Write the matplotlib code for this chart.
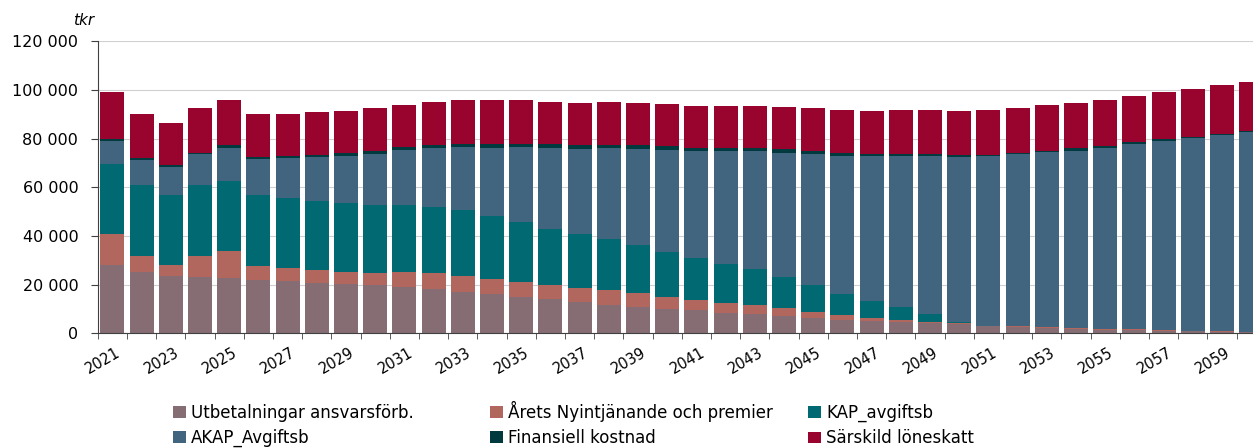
import matplotlib.pyplot as plt
from matplotlib.patches import Patch
from matplotlib.transforms import ScaledTranslation
import numpy as np

years = list(range(2021, 2061))

utbetalningar = [28000, 25200, 23700, 23150, 22900, 22050, 21650, 20800, 20150, 19750,
                 18900, 18100, 17000, 16150, 14950, 14100, 13000, 11800, 10950, 10150,
                 9450, 8200, 7950, 7100, 6300, 5500, 5200, 4650, 4100, 3850,
                 3000, 2600, 2350, 1900, 1500, 1500, 1100, 950, 700, 550]
arets = [12700, 6700, 4250, 8750, 11100, 5650, 5200, 5250, 5050, 5050,
         6300, 6700, 6550, 6300, 6300, 5650, 5500, 5850, 5500, 4800,
         4250, 4400, 3850, 3200, 2350, 2050, 1100, 850, 550, 400,
         200, 200, 150, 150, 150, 150, 150, 150, 150, 150]
kap = [28900, 29100, 28900, 29100, 28750, 29150, 28750, 28500, 28500, 28100,
       27700, 27250, 27150, 25750, 24500, 23250, 22200, 21100, 19850, 18600,
       17100, 15900, 14650, 13000, 11100, 8600, 7000, 5300, 3450, 400,
       0, 0, 0, 0, 0, 0, 0, 0, 0, 0]
akap = [9600, 10100, 11650, 12550, 13550, 14650, 16450, 17900, 19300, 20950,
        22600, 24250, 26000, 28100, 30950, 33300, 35200, 37550, 39600, 41950,
        44300, 46600, 48650, 50950, 53800, 56600, 59450, 61950, 64650, 67700,
        69500, 70700, 71900, 73050, 74650, 76300, 77950, 79200, 80550, 81900]
finansiell = [600, 1100, 700, 550, 1100, 1100, 950, 1000, 1000, 950,
              950, 1100, 1100, 1500, 1100, 1500, 1350, 950, 1350, 1500,
              1200, 1200, 1200, 1650, 1400, 1250, 1100, 1100, 1100, 1100,
              550, 550, 700, 1050, 850, 700, 550, 400, 400, 400]
sarskild = [19450, 17950, 17000, 18400, 18650, 17400, 17000, 17400, 17250, 17700,
            17550, 17800, 17850, 17850, 17850, 17400, 17550, 17950, 17550, 17400,
            17250, 17250, 17250, 17250, 17550, 17650, 17400, 17800, 17800, 17800,
            18350, 18400, 18600, 18650, 18900, 18900, 19450, 19600, 20150, 20150]

series = [
    ("Utbetalningar ansvarsförb.", utbetalningar, "#866D74"),
    ("Årets Nyintjänande och premier", arets, "#B1665E"),
    ("KAP_avgiftsb", kap, "#006972"),
    ("AKAP_Avgiftsb", akap, "#41657F"),
    ("Finansiell kostnad", finansiell, "#003A3F"),
    ("Särskild löneskatt", sarskild, "#98042D"),
]

fig = plt.figure(figsize=(12.53, 4.48), dpi=100)
ax = fig.add_axes([0.078, 0.256, 0.922, 0.652])

x = np.arange(len(years))
bottom = np.zeros(len(years))
for name, vals, col in series:
    ax.bar(x, vals, bottom=bottom, width=0.82, color=col, linewidth=0, zorder=2)
    bottom += np.array(vals)

ax.set_ylim(0, 120000)
ax.set_xlim(-0.5, 39.06)
ax.set_yticks(range(0, 120001, 20000))
ax.set_yticklabels([f"{v:,}".replace(",", " ") for v in range(0, 120001, 20000)], fontsize=11.5)
ax.yaxis.grid(True, color="#D0D0D0", linewidth=0.8, zorder=0)
ax.set_axisbelow(True)

# year labels on every other bar, tick marks between categories
ax.set_xticks(x[::2])
ax.set_xticklabels([str(y) for y in years[::2]], fontsize=10.5, rotation=30,
                   ha="right", va="center", rotation_mode="anchor")
ax.set_xticks(np.arange(-0.5, 39.5, 1), minor=True)
ax.tick_params(axis="x", which="major", length=0, pad=13)
ax.tick_params(axis="x", which="minor", length=4, color="#404040")
ax.tick_params(axis="y", length=5, pad=9, color="#404040")
for lbl in ax.get_xticklabels():
    lbl.set_transform(lbl.get_transform() + ScaledTranslation(0.07, 0, fig.dpi_scale_trans))

for s in ["top", "right"]:
    ax.spines[s].set_visible(False)
ax.spines["left"].set_color("#404040")
ax.spines["bottom"].set_color("#404040")

fig.text(0.058, 0.955, "tkr", fontsize=11, style="italic", ha="left", va="center")

# legend: three columns, two rows
handles = [Patch(facecolor=c, label=n) for n, _, c in series]
col_x = [173, 490, 808]
col_y = [0.099, 0.106, 0.099]
for i, cx in enumerate(col_x):
    fig.legend(handles=[handles[i], handles[i + 3]], loc="upper left",
               bbox_to_anchor=(cx / 1253, col_y[i]), frameon=False, fontsize=12,
               handlelength=0.8, handleheight=0.7, handletextpad=0.3,
               borderpad=0, borderaxespad=0, labelspacing=0.45)

fig.savefig("out.png", dpi=100)
